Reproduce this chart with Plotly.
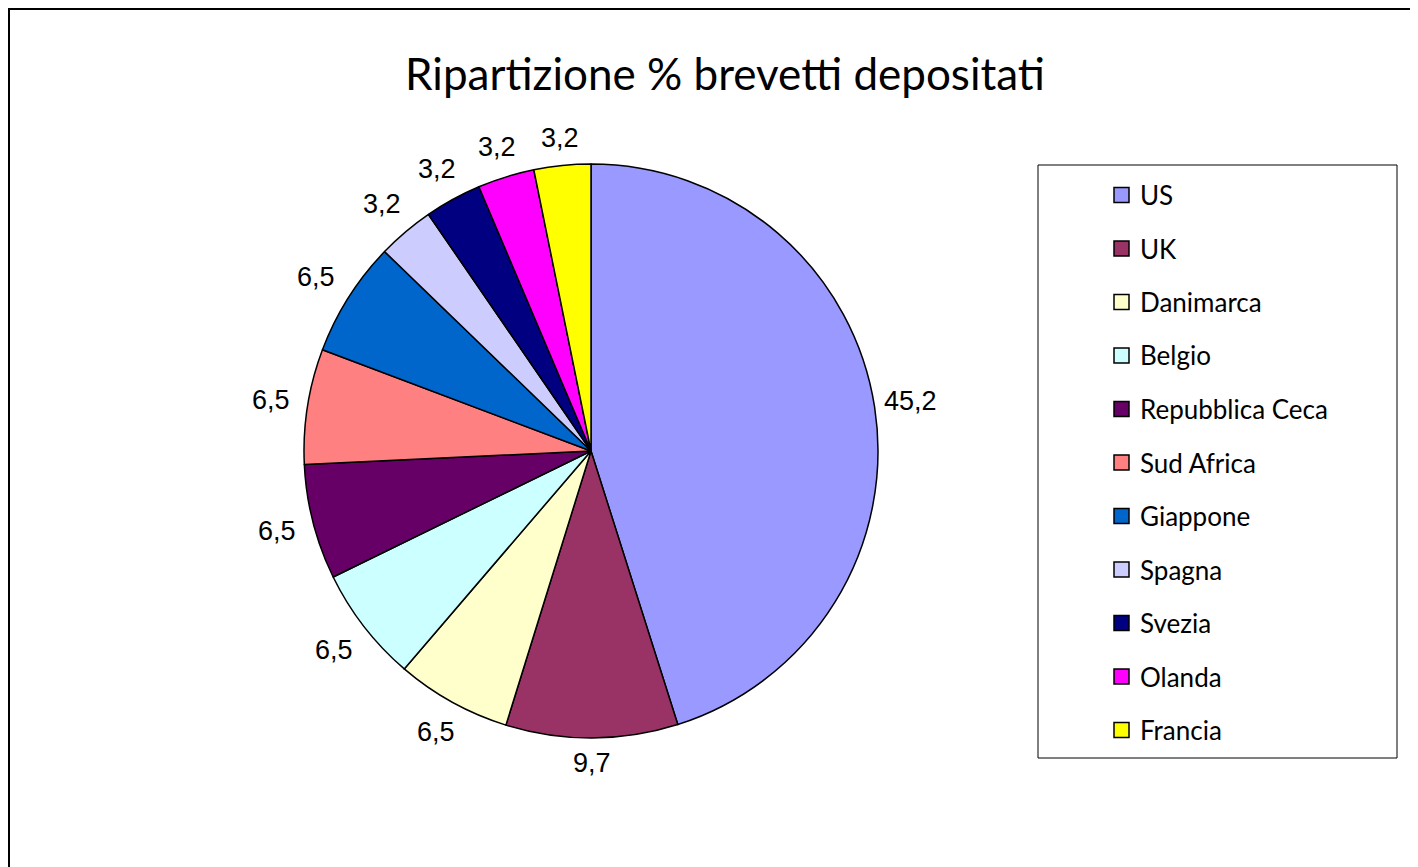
import math
import plotly.graph_objects as go

# ---- data ----
countries = ["US", "UK", "Danimarca", "Belgio", "Repubblica Ceca", "Sud Africa",
             "Giappone", "Spagna", "Svezia", "Olanda", "Francia"]
shares = [45.2, 9.7, 6.5, 6.5, 6.5, 6.5, 6.5, 3.2, 3.2, 3.2, 3.2]
colors = ["#9999FF", "#993366", "#FFFFCC", "#CCFFFF", "#660066", "#FF8080",
          "#0066CC", "#CCCCFF", "#000080", "#FF00FF", "#FFFF00"]
title_text = "Ripartizione % brevetti depositati"

W, H = 1418, 867
OFF = 8  # page body margin around the figure
def px_x(x):
    return (x - OFF) / W
def px_y(y):
    return 1 - (y - OFF) / H

TITLE_FONT = "Comic Sans MS, Lato, sans-serif"
LABEL_FONT = "Liberation Sans, Arial, sans-serif"

cx, cy0, R = 591, 451, 287
fig = go.Figure()
fig.add_trace(go.Pie(
    labels=countries,
    values=shares,
    sort=False,
    direction="clockwise",
    rotation=0,
    marker=dict(colors=colors, line=dict(color="black", width=1.5)),
    textinfo="none",
    showlegend=False,
    hoverinfo="label+value",
    domain=dict(x=[px_x(cx - R), px_x(cx + R)], y=[px_y(cy0 + R), px_y(cy0 - R)]),
))

shapes = []
annotations = []

# value labels outside each slice, placed along the slice's mid angle
total = sum(shares)
cum = 0.0
half_w, half_h, gap = 22, 12, 13
for v in shares:
    mid = (cum + v / 2) / total * 2 * math.pi  # clockwise from 12 o'clock
    cum += v
    s, c = math.sin(mid), math.cos(mid)
    r = R + gap + abs(s) * half_w + abs(c) * half_h
    lx, ly = cx + r * s, cy0 - r * c
    annotations.append(dict(xref="paper", yref="paper", x=px_x(lx), y=px_y(ly),
                            xanchor="center", yanchor="middle", showarrow=False,
                            text=f"{v:.1f}".replace(".", ","),
                            font=dict(family=LABEL_FONT, size=27, color="black")))

# outer chart border (extends past the visible page at right and bottom)
shapes.append(dict(type="rect", xref="paper", yref="paper",
                   x0=px_x(9), x1=1.05, y0=-0.05, y1=1 - 1 / H,
                   line=dict(color="black", width=2), fillcolor="rgba(0,0,0,0)"))
# legend box
shapes.append(dict(type="rect", xref="paper", yref="paper",
                   x0=px_x(1038), x1=px_x(1397), y0=px_y(758), y1=px_y(165),
                   line=dict(color="black", width=1), fillcolor="white"))
first_y, step = 195, 53.5
for i, (name, col) in enumerate(zip(countries, colors)):
    yy = first_y + i * step
    shapes.append(dict(type="rect", xref="paper", yref="paper",
                       x0=px_x(1114), x1=px_x(1129), y0=px_y(yy + 7.5), y1=px_y(yy - 7.5),
                       line=dict(color="black", width=1.5), fillcolor=col))
    annotations.append(dict(xref="paper", yref="paper", x=px_x(1138), y=px_y(yy),
                            xanchor="left", yanchor="middle", showarrow=False,
                            text=name, font=dict(family=TITLE_FONT, size=26, color="black")))

fig.update_layout(
    width=W, height=H,
    margin=dict(l=0, r=0, t=0, b=0),
    paper_bgcolor="white",
    plot_bgcolor="white",
    separators=",.",
    title=dict(text=title_text, x=px_x(725), xanchor="center", y=px_y(75), yanchor="middle",
               font=dict(family=TITLE_FONT, size=44, color="black")),
    shapes=shapes,
    annotations=annotations,
)

fig.write_html("out.html")
